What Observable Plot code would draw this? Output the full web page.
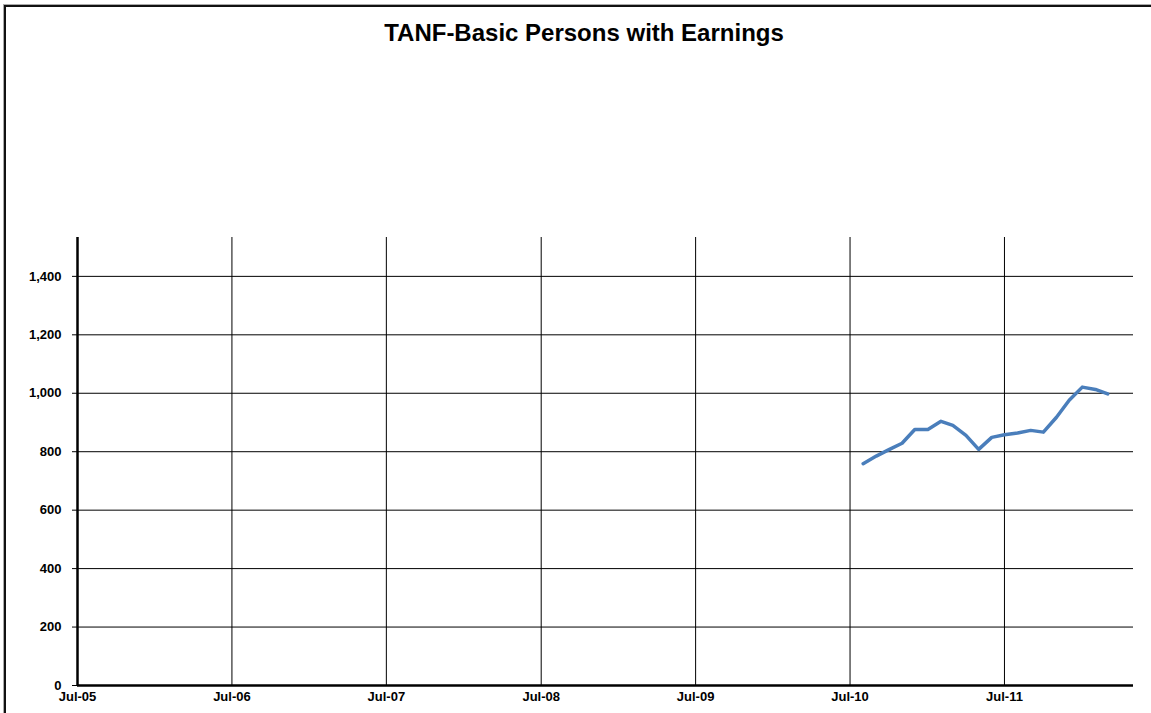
<!DOCTYPE html>
<html>
<head>
<meta charset="utf-8">
<script src="https://cdn.jsdelivr.net/npm/d3@7"></script>
<script src="https://cdn.jsdelivr.net/npm/@observablehq/plot@0.6"></script>
<style>
  html, body { margin: 0; padding: 0; background: #fff; }
  #wrap { position: relative; width: 1151px; height: 713px; overflow: hidden; }
  #frame { position: absolute; left: 4px; top: 5px; width: 1200px; height: 800px;
           border-left: 2px solid #111; border-top: 2px solid #111; box-shadow: -1px -1px 0 #aaa; }
  #title { position: absolute; left: 0; top: 19px; width: 1168px; text-align: center;
           font-family: "Liberation Sans", Arial, sans-serif; font-weight: bold; font-size: 24px; color: #000; }
  #chart { position: absolute; left: 0; top: 60px; }
</style>
</head>
<body>
<div id="wrap">
  <div id="frame"></div>
  <div id="title">TANF-Basic Persons with Earnings</div>
  <div id="chart"></div>
</div>
<script>
const months = ["2010-08-01","2010-09-01","2010-10-01","2010-11-01","2010-12-01",
  "2011-01-01","2011-02-01","2011-03-01","2011-04-01","2011-05-01","2011-06-01",
  "2011-07-01","2011-08-01","2011-09-01","2011-10-01","2011-11-01","2011-12-01",
  "2012-01-01","2012-02-01","2012-03-01"];
const persons = [759, 785, 807, 829, 876, 876, 904, 890, 856, 808, 849,
  858, 864, 873, 867, 918, 976, 1021, 1013, 998];
const yTicks = [0, 200, 400, 600, 800, 1000, 1200, 1400];
const xTicks = ["2005-07-01","2006-07-01","2007-07-01","2008-07-01","2009-07-01","2010-07-01","2011-07-01"];
const xDomain = ["2005-07-01", "2012-05-01"];
const yMax = 1533;

const data = months.map((m, i) => ({date: new Date(m), value: persons[i]}));
const xTickDates = xTicks.map(d => new Date(d));

const chart = Plot.plot({
  width: 1151,
  height: 653,
  marginLeft: 77,
  marginRight: 18,
  marginTop: 177,
  marginBottom: 28,
  style: {fontFamily: "'Liberation Sans', Arial, sans-serif", fontSize: "13px", fontWeight: "bold", color: "#000", background: "transparent"},
  x: {type: "utc", domain: xDomain.map(d => new Date(d))},
  y: {domain: [0, yMax]},
  marks: [
    Plot.gridY(yTicks.slice(1), {stroke: "#000", strokeOpacity: 1, strokeWidth: 1}),
    Plot.gridX(xTickDates, {stroke: "#000", strokeOpacity: 1, strokeWidth: 1}),
    Plot.ruleY([0], {stroke: "#000", strokeWidth: 2.5}),
    Plot.ruleX([new Date(xDomain[0])], {stroke: "#000", strokeWidth: 2.5}),
    Plot.axisY(yTicks, {tickFormat: d3.format(","), tickSize: 5, tickPadding: 11, label: null, stroke: "#000"}),
    Plot.axisX(xTickDates, {tickFormat: d3.utcFormat("%b-%y"), tickSize: 0, tickPadding: 6, label: null}),
    Plot.lineY(data, {x: "date", y: "value", stroke: "#4a7ebb", strokeWidth: 3.5, strokeLinejoin: "round"})
  ]
});
document.getElementById("chart").appendChild(chart);
</script>
</body>
</html>
